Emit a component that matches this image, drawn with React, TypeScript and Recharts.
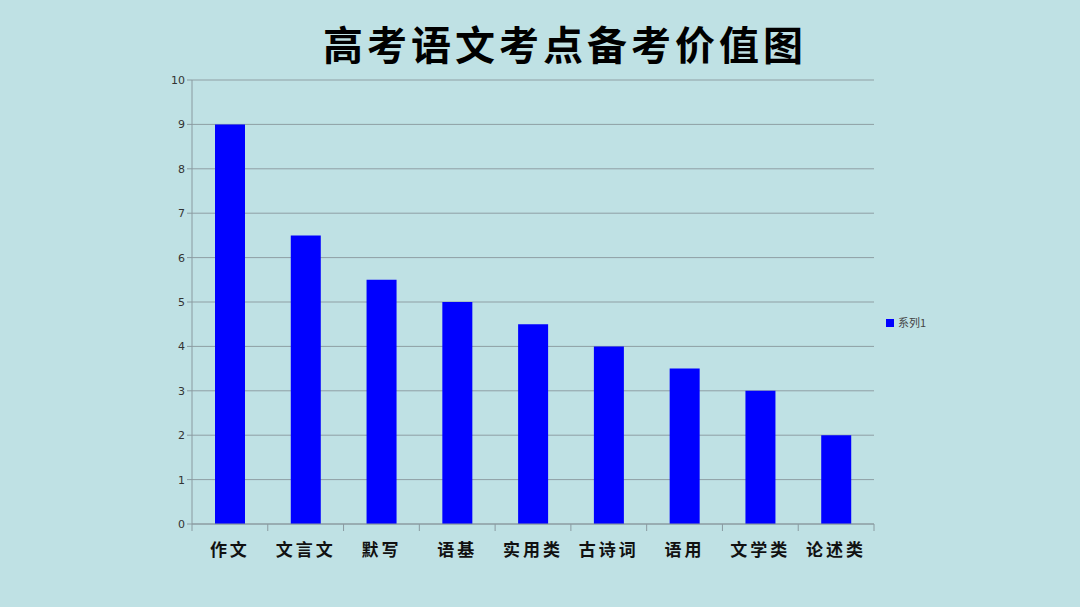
import { BarChart, Bar, XAxis, YAxis, CartesianGrid, Legend } from "recharts";

const categories = ["作文", "文言文", "默写", "语基", "实用类", "古诗词", "语用", "文学类", "论述类"];
const values = [9, 6.5, 5.5, 5, 4.5, 4, 3.5, 3, 2];
const yTicks = [0, 1, 2, 3, 4, 5, 6, 7, 8, 9, 10];
const seriesName = "系列1";
const title = "高考语文考点备考价值图";

const data = categories.map((name, i) => ({ name, value: values[i] }));

const W = 1080;
const H = 607;
const PLOT_LEFT = 192;
const PLOT_RIGHT = 874;
const LEGEND_W = 80;
const HALF_BAND = (PLOT_RIGHT - PLOT_LEFT) / categories.length / 2;

function CatTick(props: any) {
  const { x, y, payload, index } = props;
  const last = index === categories.length - 1;
  return (
    <g>
      <line x1={x - HALF_BAND} y1={y - 8} x2={x - HALF_BAND} y2={y - 1} stroke="#8a9aa0" />
      {last && <line x1={x + HALF_BAND} y1={y - 8} x2={x + HALF_BAND} y2={y - 1} stroke="#8a9aa0" />}
      <text
        x={x}
        y={y + 24}
        textAnchor="middle"
        fill="#111"
        fontSize={17}
        fontWeight="bold"
        letterSpacing={3}
        fontFamily="'Noto Sans CJK SC', sans-serif"
      >
        {payload.value}
      </text>
    </g>
  );
}

export default function App() {
  return (
    <div
      style={{
        position: "absolute",
        left: 0,
        top: 0,
        width: W,
        height: H,
        background: "#bfe1e4",
        fontFamily: "'DejaVu Sans', sans-serif",
      }}
    >
      <div
        style={{
          position: "absolute",
          left: 0,
          width: 1130,
          top: 14,
          textAlign: "center",
          fontFamily: "'Noto Sans CJK SC', sans-serif",
          fontWeight: "bold",
          fontSize: 40,
          letterSpacing: 4,
          color: "#000",
        }}
      >
        {title}
      </div>
      <BarChart
        width={W}
        height={H}
        data={data}
        margin={{ top: 80, right: W - PLOT_RIGHT - LEGEND_W, bottom: 43, left: PLOT_LEFT - 40 }}
      >
        <CartesianGrid vertical={false} stroke="#8f9fa4" />
        <XAxis
          dataKey="name"
          height={40}
          axisLine={{ stroke: "#8a9aa0" }}
          tickLine={false}
          tick={<CatTick />}
          interval={0}
        />
        <YAxis
          width={40}
          domain={[0, 10]}
          ticks={yTicks}
          axisLine={{ stroke: "#8a9aa0" }}
          tickLine={{ stroke: "#8a9aa0" }}
          tickSize={5}
          tick={{ fill: "#333", fontSize: 11 }}
        />
        <Legend
          layout="vertical"
          align="right"
          verticalAlign="middle"
          iconType="square"
          iconSize={8}
          wrapperStyle={{ left: 886, top: 312, width: LEGEND_W }}
          formatter={(v) => <span style={{ color: "#444", fontSize: 11, fontFamily: "'Noto Sans CJK SC', sans-serif" }}>{v}</span>}
        />
        <Bar dataKey="value" name={seriesName} fill="#0000ff" barSize={30} isAnimationActive={false} />
      </BarChart>
    </div>
  );
}
